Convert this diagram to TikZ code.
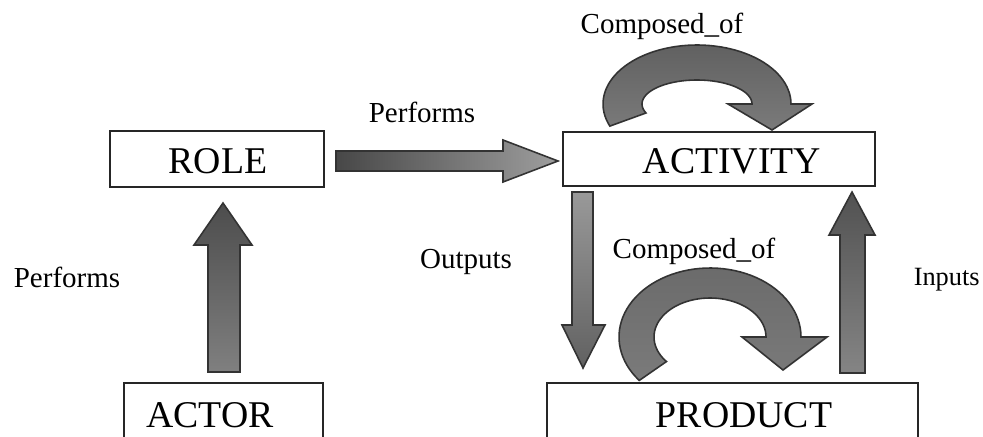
\documentclass[tikz,border=0pt]{standalone}
\usepackage{fontspec}
\setmainfont{Liberation Serif}
\begin{document}
\begin{tikzpicture}[x=0.02cm,y=-0.02cm,
  box/.style={draw=black!85,line width=0.9pt,fill=white,inner sep=0pt},
  boxtext/.style={anchor=base,font=\fontsize{21.5}{24}\selectfont,inner sep=0pt},
  lbl/.style={anchor=base,font=\fontsize{16.5}{19}\selectfont,inner sep=0pt},
  blockarrow/.style={draw=black!80,line width=0.9pt,line join=miter}]
\clip (0,0) rectangle (983,436);

% entity boxes
\node[box,minimum width=4.28cm,minimum height=1.12cm] (role) at (217,159) {};
\node[box,minimum width=6.24cm,minimum height=1.08cm] (activity) at (719,159) {};
\node[box,minimum width=3.98cm,minimum height=1.6cm] (actor) at (223.5,423) {};
\node[box,minimum width=7.42cm,minimum height=1.6cm] (product) at (732.5,423) {};

\node[boxtext] (roletxt) at (218,173) {ROLE};
\node[boxtext] (activitytxt) at (732,173) {ACTIVITY};
\node[boxtext] (actortxt) at (210,427) {ACTOR};
\node[boxtext] (producttxt) at (744,427) {PRODUCT};

% role performs activity
\draw[blockarrow,left color=black!72,right color=black!38]
  (336,151) -- (503,151) -- (503,140) -- (558,161) -- (503,182) -- (503,171) -- (336,171) -- cycle;
% actor performs role
\draw[blockarrow,top color=black!70,bottom color=black!50]
  (208,372) -- (208,245) -- (194,245) -- (223,203) -- (252,245) -- (240,245) -- (240,372) -- cycle;
% activity outputs product
\draw[blockarrow,top color=black!40,bottom color=black!62]
  (572,192) -- (593,192) -- (593,325) -- (605,325) -- (583,368) -- (562,325) -- (572,325) -- cycle;
% product inputs activity
\draw[blockarrow,top color=black!68,bottom color=black!48]
  (840,373) -- (840,235) -- (829,235) -- (852,192) -- (875,235) -- (865,235) -- (865,373) -- cycle;

% activity composed of activities
\draw[blockarrow,top color=black!62,bottom color=black!52]
  plot[domain=158:360,samples=60] ({697+94*cos(\x)},{104+59*sin(\x)})
  -- (812,104) -- (772,130) -- (728,104)
  -- plot[domain=360:158,samples=60] ({697+55*cos(\x)},{104+24*sin(\x)}) -- cycle;
% product composed of products
\draw[blockarrow,top color=black!58,bottom color=black!52]
  plot[domain=141:360,samples=60] ({710+91*cos(\x)},{337+69*sin(\x)})
  -- (827,337) -- (783,370) -- (742,337)
  -- plot[domain=360:141,samples=60] ({710+56*cos(\x)},{337+39*sin(\x)}) -- cycle;

% relation labels
\node[lbl] (l1) at (662,33) {Composed\_of};
\node[lbl] (l2) at (422,122) {Performs};
\node[lbl] (l3) at (67,287) {Performs};
\node[lbl] (l4) at (466,268) {Outputs};
\node[lbl] (l5) at (694,258) {Composed\_of};
\node[lbl,anchor=base east,font=\fontsize{15}{18}\selectfont] (l6) at (980,285) {Inputs};
\end{tikzpicture}
\end{document}
